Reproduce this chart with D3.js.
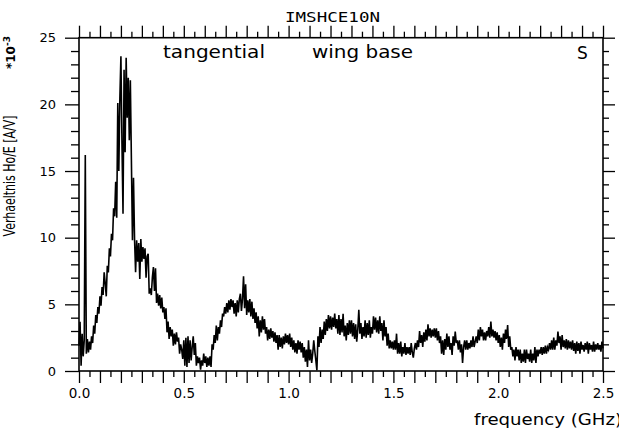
<!DOCTYPE html>
<html>
<head>
<meta charset="utf-8">
<script src="https://cdn.jsdelivr.net/npm/d3@7"></script>
<style>
  html, body { margin: 0; padding: 0; background: #fff; }
  svg { display: block; }
  text { fill: #000; }
</style>
</head>
<body>
<svg id="chart" width="619" height="433"></svg>
<script>
// Transfer ratio Ho/E (units of 1e-3 A/V), sampled every 0.005 GHz from 0.0 to 2.5 GHz
const freqStart = 0.0;
const freqStep = 0.005;
const ratio = [
  // 0.000 - 0.095
  1.9, 3.7, 0.4, 2.8, 1.1, 2.3, 16.2, 1.3, 2.4, 1.4,
  2.2, 1.6, 2.6, 2.1, 3.4, 2.8, 4.2, 3.6, 4.8, 4.3,
  // 0.100 - 0.195
  5.6, 4.9, 6.3, 5.7, 7.4, 6.6, 5.6, 7.9, 7.4, 9.2,
  8.6, 10.3, 9.8, 12.2, 11.6, 14.2, 11.5, 20.1, 15.0, 20.5,
  // 0.200 - 0.295
  23.6, 17.0, 11.8, 22.6, 16.4, 23.5, 19.0, 22.0, 17.3, 21.8,
  15.8, 9.8, 14.5, 9.9, 7.4, 9.8, 8.2, 9.6, 6.9, 9.9,
  // 0.300 - 0.395
  8.2, 9.3, 8.4, 9.2, 7.0, 8.6, 8.8, 5.8, 6.2, 5.7,
  7.0, 7.8, 6.0, 7.7, 5.1, 5.8, 4.9, 5.7, 4.7, 5.5,
  // 0.400 - 0.495
  4.4, 4.8, 3.9, 4.7, 2.9, 3.7, 2.4, 3.3, 2.6, 3.1,
  1.9, 2.8, 2.0, 2.9, 2.2, 2.5, 1.3, 2.0, 1.6, 0.9,
  // 0.500 - 0.595
  2.3, 0.4, 2.5, 0.3, 2.6, 0.6, 2.3, 0.8, 1.8, 2.6,
  1.2, 2.1, 0.4, 1.1, 0.6, 1.0, 0.1, 0.8, 0.4, 1.3,
  // 0.600 - 0.695
  0.6, 1.1, 0.3, 1.0, 0.4, 1.1, 0.3, 2.0, 1.6, 2.7,
  2.1, 3.4, 2.3, 3.3, 2.8, 3.8, 3.3, 4.3, 4.1, 4.8,
  // 0.700 - 0.795
  4.3, 5.1, 4.4, 5.3, 4.6, 5.4, 4.8, 5.3, 4.3, 5.1,
  4.1, 5.3, 4.4, 5.4, 5.8, 4.5, 5.4, 7.1, 4.7, 6.5,
  // 0.800 - 0.895
  4.2, 5.3, 4.4, 5.4, 4.1, 5.2, 3.9, 4.7, 3.6, 4.4,
  3.2, 4.1, 2.6, 3.8, 2.9, 4.1, 3.1, 3.9, 2.8, 3.3,
  // 0.900 - 0.995
  2.3, 3.1, 2.4, 3.2, 2.5, 3.0, 2.2, 2.9, 2.1, 2.7,
  1.6, 2.7, 1.8, 2.5, 1.7, 2.6, 2.0, 2.8, 2.1, 2.7,
  // 1.000 - 1.095
  2.0, 2.8, 1.8, 2.5, 1.6, 2.3, 1.4, 2.1, 1.3, 2.3,
  1.6, 2.2, 1.4, 2.1, 1.0, 1.8, 0.7, 1.6, 0.3, 2.3,
  // 1.100 - 1.195
  0.8, 1.6, 0.6, 1.3, 2.3, 1.5, 0.8, 0.05, 2.6, 1.8,
  3.3, 2.1, 3.1, 2.4, 3.7, 2.7, 3.9, 3.0, 4.2, 3.2,
  // 1.200 - 1.295
  4.1, 3.1, 4.0, 3.3, 4.3, 3.2, 3.9, 2.8, 4.2, 2.7,
  3.9, 2.9, 4.3, 2.6, 3.4, 2.3, 3.6, 2.7, 3.8, 2.8,
  // 1.300 - 1.395
  3.8, 2.6, 3.6, 2.4, 3.5, 2.2, 3.1, 4.6, 2.8, 3.6,
  2.4, 3.3, 2.6, 3.8, 2.5, 3.6, 2.7, 3.8, 2.5, 3.3,
  // 1.400 - 1.495
  2.8, 4.1, 3.1, 4.0, 2.9, 3.8, 2.8, 4.1, 3.0, 3.6,
  2.3, 3.8, 2.6, 3.3, 1.9, 2.8, 1.7, 2.3, 1.7, 2.2,
  // 1.500 - 1.595
  1.6, 2.3, 1.6, 2.8, 1.3, 2.1, 1.3, 2.2, 1.1, 1.8,
  1.3, 2.1, 1.2, 1.8, 1.3, 1.8, 1.2, 2.1, 1.4, 1.0,
  // 1.600 - 1.695
  1.7, 2.1, 1.6, 2.3, 1.8, 3.0, 2.1, 2.7, 1.8, 2.9,
  2.2, 3.1, 2.3, 3.5, 2.6, 3.2, 2.5, 3.1, 2.6, 3.2,
  // 1.700 - 1.795
  2.5, 3.2, 2.3, 3.0, 2.1, 2.6, 1.3, 2.3, 1.2, 2.4,
  1.6, 2.8, 1.8, 2.6, 1.6, 2.1, 1.2, 2.6, 1.9, 2.95,
  // 1.800 - 1.895
  2.1, 2.3, 1.6, 2.3, 1.4, 2.0, 0.6, 1.8, 2.3, 1.6,
  2.3, 1.6, 2.1, 1.7, 2.3, 1.8, 2.6, 1.8, 2.2, 2.6,
  // 1.900 - 1.995
  2.1, 3.1, 2.3, 3.3, 2.6, 3.1, 2.3, 2.9, 2.3, 3.0,
  2.6, 3.3, 2.5, 3.7, 2.6, 3.1, 2.5, 3.0, 2.3, 2.9,
  // 2.000 - 2.095
  2.1, 2.7, 1.8, 2.5, 1.6, 2.8, 2.1, 3.1, 2.4, 3.45,
  1.8, 2.6, 1.6, 1.8, 1.1, 1.6, 0.8, 1.8, 1.1, 1.6,
  // 2.100 - 2.195
  0.8, 1.6, 0.6, 1.3, 0.7, 1.6, 0.6, 1.6, 0.9, 1.3,
  0.7, 1.6, 0.6, 1.3, 0.8, 1.8, 0.6, 1.6, 1.1, 1.6,
  // 2.200 - 2.295
  1.3, 1.8, 1.2, 1.8, 1.3, 1.9, 1.3, 1.8, 1.6, 2.1,
  1.6, 2.3, 1.6, 2.5, 1.6, 2.3, 1.9, 2.95, 2.1, 2.6,
  // 2.300 - 2.395
  1.6, 2.7, 1.8, 2.3, 1.7, 2.4, 1.6, 2.3, 1.7, 2.2,
  1.6, 2.3, 1.5, 2.1, 1.3, 2.2, 1.5, 2.1, 1.3, 2.2,
  // 2.400 - 2.500
  1.6, 1.95, 1.45, 2.1, 1.6, 2.2, 1.3, 2.1, 1.6, 1.95,
  1.45, 2.2, 1.45, 2.0, 1.6, 2.1, 1.6, 1.95, 1.45, 2.2,
  1.7
];

// Axis labels and annotations
const xTickLabels = ["0.0", "0.5", "1.0", "1.5", "2.0", "2.5"];
const xLabelValues = [0, 0.5, 1.0, 1.5, 2.0, 2.5];
const yTickLabels = ["0", "5", "10", "15", "20", "25"];
const yLabelValues = [0, 5, 10, 15, 20, 25];
const titleText = "IMSHCE10N";
const xAxisTitle = "frequency (GHz)";
const yAxisTitle = "Verhaeltnis Ho/E [A/V]";
const notes = ["tangential", "wing base", "S"];

const svg = d3.select("#chart");
const plot = { left: 79, right: 603, top: 37.7, bottom: 371 };

const x = d3.scaleLinear().domain([0, 2.5]).range([plot.left, plot.right]);
const y = d3.scaleLinear().domain([0, 25]).range([plot.bottom, plot.top]);

// tick grids: x every 0.05 (long at 0.1), y every 1 (long at 5)
const xMinor = d3.range(0, 51).filter(i => i % 2 === 1).map(i => +(i * 0.05).toFixed(2));
const xMajor = d3.range(0, 26).map(i => +(i * 0.1).toFixed(1));
const yMinor = d3.range(0, 26).filter(i => i % 5 !== 0);
const yMajor = yLabelValues;

const labelFont = "'DejaVu Sans', sans-serif";

function styleAxis(g) {
  g.select(".domain").remove();
  g.selectAll(".tick line").attr("stroke", "#000").attr("stroke-width", 1.3);
  g.selectAll(".tick text").attr("font-family", labelFont).attr("font-size", 13).attr("fill", "#000");
}

const fmtX = d => {
  const k = xLabelValues.findIndex(v => Math.abs(v - d) < 1e-6);
  return k >= 0 ? xTickLabels[k] : "";
};
const fmtY = d => {
  const k = yLabelValues.indexOf(d);
  return k >= 0 ? yTickLabels[k] : "";
};

// bottom axis
svg.append("g").attr("transform", `translate(0,${plot.bottom})`)
  .call(d3.axisBottom(x).tickValues(xMajor).tickSize(12).tickPadding(5).tickFormat(fmtX)).call(styleAxis)
  .selectAll(".tick text").attr("font-size", 13.5);
svg.append("g").attr("transform", `translate(0,${plot.bottom})`)
  .call(d3.axisBottom(x).tickValues(xMinor).tickSize(6).tickFormat("")).call(styleAxis);

// top axis
svg.append("g").attr("transform", `translate(0,${plot.top})`)
  .call(d3.axisTop(x).tickValues(xMajor).tickSize(12).tickFormat("")).call(styleAxis);
svg.append("g").attr("transform", `translate(0,${plot.top})`)
  .call(d3.axisTop(x).tickValues(xMinor).tickSize(6).tickFormat("")).call(styleAxis);

// left axis
svg.append("g").attr("transform", `translate(${plot.left},0)`)
  .call(d3.axisLeft(y).tickValues(yMajor).tickSize(14).tickPadding(9).tickFormat(fmtY)).call(styleAxis);
svg.append("g").attr("transform", `translate(${plot.left},0)`)
  .call(d3.axisLeft(y).tickValues(yMinor).tickSize(8).tickFormat("")).call(styleAxis);

// right axis
svg.append("g").attr("transform", `translate(${plot.right},0)`)
  .call(d3.axisRight(y).tickValues(yMajor).tickSize(12).tickFormat("")).call(styleAxis);
svg.append("g").attr("transform", `translate(${plot.right},0)`)
  .call(d3.axisRight(y).tickValues(yMinor).tickSize(6).tickFormat("")).call(styleAxis);

// frame
svg.append("rect")
  .attr("x", plot.left).attr("y", plot.top)
  .attr("width", plot.right - plot.left).attr("height", plot.bottom - plot.top)
  .attr("fill", "none").attr("stroke", "#000").attr("stroke-width", 1.6);

// measured trace
const line = d3.line()
  .x((d, i) => x(freqStart + i * freqStep))
  .y(d => y(d));

svg.append("path")
  .datum(ratio)
  .attr("d", line)
  .attr("fill", "none")
  .attr("stroke", "#000")
  .attr("stroke-width", 1.6)
  .attr("stroke-linejoin", "miter");

// title
svg.append("text")
  .attr("x", 285).attr("y", 21.5)
  .attr("font-family", "'DejaVu Sans Mono', monospace").attr("font-size", 14)
  .attr("textLength", 95).attr("lengthAdjust", "spacingAndGlyphs")
  .text(titleText);

// annotations inside the frame
svg.append("text").attr("x", 163).attr("y", 58)
  .attr("font-family", labelFont).attr("font-size", 17)
  .attr("textLength", 102).attr("lengthAdjust", "spacingAndGlyphs")
  .text(notes[0]);
svg.append("text").attr("x", 312).attr("y", 58)
  .attr("font-family", labelFont).attr("font-size", 17)
  .attr("textLength", 101).attr("lengthAdjust", "spacingAndGlyphs")
  .text(notes[1]);
svg.append("text").attr("x", 577).attr("y", 59)
  .attr("font-family", labelFont).attr("font-size", 17)
  .text(notes[2]);

// x axis title
svg.append("text").attr("x", 474).attr("y", 425)
  .attr("font-family", labelFont).attr("font-size", 16)
  .attr("textLength", 148).attr("lengthAdjust", "spacingAndGlyphs")
  .text(xAxisTitle);

// y axis title (rotated)
svg.append("text")
  .attr("transform", "translate(15,176) rotate(-90)")
  .attr("text-anchor", "middle")
  .attr("font-family", labelFont).attr("font-size", 16)
  .attr("textLength", 121).attr("lengthAdjust", "spacingAndGlyphs")
  .text(yAxisTitle);

// scale factor note
const sf = svg.append("text")
  .attr("transform", "translate(15,69) rotate(-90)")
  .attr("font-family", labelFont).attr("font-size", 12).attr("font-weight", "bold");
sf.append("tspan").text("*10");
sf.append("tspan").attr("dy", -5).attr("font-size", 9).text("-3");
</script>
</body>
</html>
